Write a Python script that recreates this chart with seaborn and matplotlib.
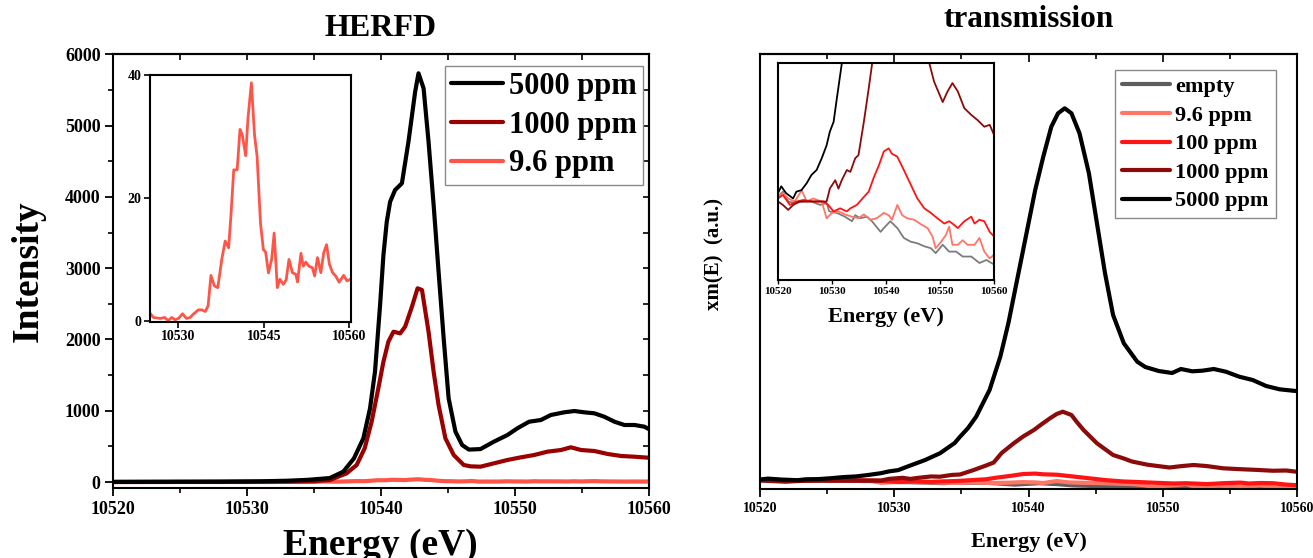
import numpy as np
import pandas as pd
import matplotlib
matplotlib.use("Agg")
import matplotlib.pyplot as plt
from matplotlib.ticker import MultipleLocator, FixedLocator, NullLocator
import seaborn as sns

# ---------------- HERFD data ----------------
herfd_5000_E = [10520, 10524, 10528, 10531, 10533, 10534.5, 10535.5, 10536.2, 10537.2, 10538.0,
                10538.7, 10539.2, 10539.57, 10539.95, 10540.2, 10540.45, 10540.7, 10541.07, 10541.58, 10542.07,
                10542.57, 10542.82, 10543.2, 10543.57, 10543.95, 10544.32, 10544.7, 10545.07, 10545.58, 10546.08,
                10546.58, 10547.45, 10548.45, 10549.46, 10550.2, 10551.08, 10551.96, 10552.7, 10553.7, 10554.46,
                10555.2, 10555.96, 10556.7, 10557.46, 10558.2, 10558.96, 10559.7, 10560]
herfd_5000_I = [2, 4, 6, 10, 18, 30, 45, 56, 145, 332,
                613, 1034, 1548, 2483, 3185, 3652, 3933, 4097, 4191, 4775,
                5476, 5735, 5524, 4775, 3887, 2951, 2016, 1174, 706, 519,
                455, 462, 566, 659, 753, 846, 870, 940, 978, 996,
                978, 964, 916, 846, 800, 800, 776, 745]

herfd_1000_E = [10520, 10525, 10530, 10533, 10535, 10536.2, 10537.45, 10538.2, 10538.8, 10539.32,
                10539.82, 10540.2, 10540.57, 10540.95, 10541.45, 10541.82, 10542.33, 10542.75, 10543.08, 10543.57,
                10543.95, 10544.32, 10544.83, 10545.45, 10546.2, 10546.7, 10547.45, 10548.45, 10549.46, 10550.46,
                10551.46, 10552.46, 10553.46, 10554.2, 10554.96, 10555.96, 10556.96, 10557.96, 10558.96, 10560]
herfd_1000_I = [0, 1, 3, 6, 12, 28, 122, 239, 473, 846,
                1314, 1688, 1969, 2109, 2086, 2179, 2460, 2718, 2694, 2109,
                1548, 1080, 613, 379, 239, 220, 215, 262, 309, 346,
                379, 426, 449, 487, 449, 435, 393, 365, 355, 341]

herfd_96_E = [10520, 10522, 10524, 10525, 10525.6, 10526.8, 10527.6, 10528.2, 10528.8, 10529.4,
              10530, 10530.7, 10531.4, 10532.06, 10532.6, 10533.5, 10534.1, 10534.7, 10535.2, 10535.7,
              10536.3, 10536.9, 10537.6, 10538.2, 10538.8, 10539.2, 10539.7, 10540.3, 10540.8, 10541.2,
              10541.8, 10542.2, 10542.8, 10543.35, 10543.8, 10544.4, 10544.9, 10545.3, 10545.8, 10546.35,
              10546.8, 10547.35, 10547.8, 10548.4, 10548.9, 10549.4, 10550.0, 10550.6, 10550.9, 10551.5,
              10551.9, 10552.35, 10552.9, 10553.5, 10553.9, 10554.4, 10555.0, 10555.5, 10556.0, 10556.5,
              10557.06, 10557.6, 10558.2, 10559.0, 10559.6, 10560.2]
herfd_96_I = [0.5, 0.8, 0.4, 1.24, 0.54, 0.38, 0.54, 0, 0.54, 0.16,
              0.38, 1.14, 0.38, 0.54, 1.08, 1.78, 1.78, 1.51, 2.43, 7.4,
              5.68, 5.4, 10.0, 13.0, 11.9, 17.0, 24.6, 24.6, 31.2, 30.3,
              26.9, 33.0, 38.8, 30.3, 26.8, 15.9, 11.6, 11.2, 7.8, 10.0,
              14.3, 5.4, 6.76, 5.95, 6.65, 10.0, 7.84, 7.57, 6.32, 11.0,
              8.9, 9.57, 8.9, 8.65, 7.3, 10.3, 7.84, 11.1, 12.4, 9.2,
              7.84, 7.3, 6.3, 7.4, 6.5, 6.76]

# ---------------- transmission data (arb. units) ----------------
tr_empty_E = [10520, 10520.9, 10521.9, 10523.1, 10524.7, 10526.2, 10527.8, 10529, 10529.5, 10530.9,
              10532.4, 10533.7, 10534.3, 10535.2, 10536.5, 10537.4, 10539, 10539.6, 10540.8, 10542.1,
              10543.3, 10544.6, 10545.8, 10547.1, 10548.3, 10549.2, 10550.5, 10551.7, 10553, 10554.2,
              10555.8, 10557.3, 10558.6, 10560]
tr_empty_v = [0.04, 0.7, -0.6, -0.8, -0.6, -0.6, -1.05, -0.8, -1.9, -2.1,
              -2.6, -3.2, -2.4, -2.8, -2.6, -3.2, -4.6, -4.1, -3.2, -4.1,
              -5.4, -5.9, -6.1, -6.5, -6.75, -7.4, -6.3, -7.2, -7.2, -7.85,
              -7.85, -8.7, -8.3, -8.9]

tr_96_E = [10520, 10520.9, 10521.9, 10523.1, 10524.4, 10525.3, 10526.5, 10528.1, 10529, 10530,
           10531.2, 10532.4, 10533.7, 10534.9, 10535.9, 10537.1, 10538.3, 10539.6, 10540.5, 10541.1,
           10542.1, 10543, 10543.9, 10545.2, 10546.7, 10547.7, 10548.6, 10549.2, 10550.2, 10551.1,
           10551.7, 10552.3, 10553.3, 10554.2, 10555.1, 10556.4, 10557.3, 10558.2, 10559.2, 10560]
tr_96_v = [0, 0.5, -0.2, -0.6, 0.9, -0.6, -0.2, -0.6, -2.8, -2.1,
           -1.9, -2.3, -2.6, -2.8, -2.3, -3.0, -2.8, -2.1, -2.4, -3.0,
           -1.05, -2.4, -2.8, -3.0, -3.7, -4.1, -5.2, -6.75, -5.9, -5.0,
           -3.9, -6.3, -6.3, -5.7, -6.3, -6.3, -5.4, -7.2, -8.1, -7.6]

tr_100_E = [10520, 10520.9, 10522.2, 10523.4, 10524.7, 10526.5, 10528.4, 10529.3, 10530.3, 10531.5,
            10532.75, 10533.4, 10534.6, 10535.9, 10536.8, 10537.7, 10538.7, 10539.6, 10540.5, 10541.1,
            10542.1, 10543.3, 10544.6, 10545.8, 10547.1, 10548.3, 10549.5, 10550.8, 10551.7, 10552.3,
            10553.3, 10554.5, 10555.8, 10556.4, 10557.3, 10558.2, 10559.2, 10560]
tr_100_v = [-0.2, 0.26, -1.05, -0.6, -0.4, -0.6, -0.6, -1.05, -1.9, -1.5,
            -1.9, -1.5, -1.05, 0, 0.7, 2.5, 4.2, 6.0, 6.4, 5.7,
            5.3, 3.55, 1.6, -0.2, -1.5, -2.1, -2.8, -3.5, -3.2, -3.5,
            -4.1, -3.2, -2.6, -3.5, -3.0, -3.2, -4.6, -5.2]

tr_1000_E = [10520, 10520.9, 10521.9, 10522.8, 10524, 10525.9, 10527.8, 10529, 10529.6, 10530.6,
             10531.2, 10531.8, 10532.75, 10533.4, 10534.3, 10534.9, 10535.9, 10536.8, 10537.4, 10538.0,
             10538.9, 10539.6, 10540.4, 10541.0, 10541.6, 10542.1, 10542.55, 10543.2, 10543.6, 10544.1,
             10545.1, 10546.3, 10547.1, 10547.7, 10548.9, 10550.5, 10551.4, 10552.3, 10553.3, 10554.5,
             10555.8, 10557, 10558.2, 10559.2, 10560]
tr_1000_v = [-0.6, -1.05, -1.7, -1.05, -0.6, -0.6, -0.6, -0.6, 1.1, 2.2,
             1.1, 2.2, 3.55, 3.3, 5.1, 5.5, 9.9, 14.3, 17.4, 27,
             36.7, 43.5, 50, 56, 61.7, 66, 68.3, 65, 58, 50,
             36.7, 25, 21.5, 18.5, 15.2, 12.5, 13.9, 15.0, 13.9, 11.7,
             10.8, 10.1, 9.25, 9.5, 8.2]

tr_5000_E = [10520, 10520.6, 10521.5, 10522.8, 10523.4, 10524.35, 10525.3, 10526.2, 10527.15, 10528.1,
             10529, 10529.6, 10530.3, 10530.9, 10531.5, 10532.3, 10533.4, 10534.5, 10534.9, 10535.5,
             10536.1, 10537.1, 10537.9, 10538.5, 10539.0, 10539.5, 10540.0, 10540.5, 10541.1, 10541.7,
             10542.2, 10542.7, 10543.2, 10543.8, 10544.5, 10545.1, 10545.7, 10546.3, 10547.1, 10548.1,
             10548.7, 10549.7, 10550.7, 10551.35, 10552.2, 10552.95, 10553.8, 10554.7, 10555.7, 10556.7,
             10557.7, 10558.7, 10559.9, 10560]
tr_5000_v = [0.5, 1.4, 0.5, -0.2, 0.7, 0.9, 1.8, 2.9, 3.55, 5.1,
             6.8, 8.6, 9.9, 13.0, 16.0, 20, 26.7, 37, 43.3, 52,
             63.3, 90, 123.3, 156.7, 190, 223.3, 256.7, 290, 323.3, 353.3,
             366.7, 371.7, 366.7, 346.7, 306.7, 256.7, 206.7, 165, 136.7, 118.3,
             113, 109, 107, 111, 108.7, 109.3, 111, 108.3, 103.3, 100,
             94, 90.7, 89, 89]

herfd_labels = ["5000 ppm", "1000 ppm", "9.6 ppm"]
trans_labels = ["empty", "9.6 ppm", "100 ppm", "1000 ppm", "5000 ppm"]

# ---------------- style ----------------
sns.set_theme(style="ticks")
plt.rcParams['font.family'] = ['Liberation Serif', 'DejaVu Serif']
plt.rcParams['font.weight'] = 'bold'
plt.rcParams['axes.labelweight'] = 'bold'
plt.rcParams['axes.titleweight'] = 'bold'
plt.rcParams['axes.edgecolor'] = 'black'
plt.rcParams['axes.labelcolor'] = 'black'
plt.rcParams['text.color'] = 'black'
plt.rcParams['xtick.color'] = 'black'
plt.rcParams['ytick.color'] = 'black'

W, H = 1313, 558
fig = plt.figure(figsize=(W / 100, H / 100), dpi=100)


def box(l, t, r, b):
    return [l / W, 1 - b / H, (r - l) / W, (b - t) / H]


ax1 = fig.add_axes(box(113, 54.4, 648.5, 488))
ax1in = fig.add_axes(box(150, 75.4, 350.5, 322))
ax2 = fig.add_axes(box(760, 54.4, 1297, 488.6))
ax2in = fig.add_axes(box(778, 62.6, 994, 279.7))

for a in (ax1, ax1in, ax2, ax2in):
    for s in a.spines.values():
        s.set_linewidth(1.5)
        s.set_color('black')

c_h5000, c_h1000, c_h96 = 'black', '#9B0000', '#FF5548'
c_empty, c_t96, c_t100, c_t1000, c_t5000 = '#5E5E5E', '#FF7566', '#FF1414', '#8B0A0A', 'black'

# ---------------- HERFD main ----------------
sns.lineplot(x=herfd_96_E, y=herfd_96_I, ax=ax1, color=c_h96, lw=3, label=herfd_labels[2],
             estimator=None, sort=False)
sns.lineplot(x=herfd_1000_E, y=herfd_1000_I, ax=ax1, color=c_h1000, lw=3, label=herfd_labels[1],
             estimator=None, sort=False)
sns.lineplot(x=herfd_5000_E, y=herfd_5000_I, ax=ax1, color=c_h5000, lw=3, label=herfd_labels[0],
             estimator=None, sort=False)
ax1.set_xlim(10520, 10560)
ax1.set_ylim(-84, 6000)
ax1.xaxis.set_major_locator(MultipleLocator(10))
ax1.xaxis.set_minor_locator(MultipleLocator(5))
ax1.yaxis.set_major_locator(MultipleLocator(1000))
ax1.yaxis.set_minor_locator(MultipleLocator(500))
ax1.tick_params(which='major', direction='out', length=6, width=1.3, labelsize=13, pad=3)
ax1.tick_params(which='minor', direction='out', length=3.5, width=1.2)
sx = ax1.secondary_xaxis('top')
sx.xaxis.set_major_locator(MultipleLocator(5))
sx.tick_params(direction='in', length=4, width=1.2, labeltop=False)
sy = ax1.secondary_yaxis('right')
sy.yaxis.set_major_locator(MultipleLocator(500))
sy.tick_params(direction='in', length=4, width=1.2, labelright=False)
for s in list(sx.spines.values()) + list(sy.spines.values()):
    s.set_linewidth(1.5)
ax1.set_title("HERFD", fontsize=23, pad=13)
ax1.set_xlabel("Energy (eV)", fontsize=27)
ax1.set_ylabel("Intensity", fontsize=27)
ax1.xaxis.set_label_coords(0.5, -0.093)
ax1.yaxis.set_label_coords(-0.125, 0.5)
h, l = ax1.get_legend_handles_labels()
order = [l.index(x) for x in herfd_labels]
leg1 = ax1.legend([h[i] for i in order], [l[i] for i in order], loc='upper right',
                  bbox_to_anchor=(1 - 5.5 / 535.5, 1 - 11.4 / 433.6), borderaxespad=0,
                  fontsize=22, handlelength=1.7, handletextpad=0.2, labelspacing=0.32,
                  borderpad=0.2, fancybox=False, edgecolor='#8A8A8A', framealpha=1)
leg1.get_frame().set_linewidth(1.0)

# ---------------- HERFD inset ----------------
sns.lineplot(x=herfd_96_E, y=herfd_96_I, ax=ax1in, color=c_h96, lw=2, legend=False,
             estimator=None, sort=False)
ax1in.set_xlim(10525, 10560.2)
ax1in.set_ylim(-0.2, 40)
ax1in.xaxis.set_major_locator(FixedLocator([10530, 10545, 10560]))
ax1in.yaxis.set_major_locator(FixedLocator([0, 20, 40]))
ax1in.tick_params(which='major', direction='out', length=4, width=1.2, labelsize=10, pad=2)
ax1in.set_xlabel("")
ax1in.set_ylabel("")

# ---------------- transmission main ----------------
series = [(tr_empty_E, tr_empty_v, c_empty, '#7C7C7C', trans_labels[0]),
          (tr_96_E, tr_96_v, c_t96, c_t96, trans_labels[1]),
          (tr_100_E, tr_100_v, c_t100, c_t100, trans_labels[2]),
          (tr_1000_E, tr_1000_v, c_t1000, c_t1000, trans_labels[3]),
          (tr_5000_E, tr_5000_v, c_t5000, c_t5000, trans_labels[4])]
for E, v, c, cin, lab in series:
    sns.lineplot(x=E, y=v, ax=ax2, color=c, lw=3, label=lab, estimator=None, sort=False)
    sns.lineplot(x=E, y=v, ax=ax2in, color=cin, lw=1.3, legend=False, estimator=None, sort=False)

ax2.set_xlim(10520, 10560)
ax2.set_ylim(-8.6, 425.6)
ax2.xaxis.set_major_locator(MultipleLocator(10))
ax2.xaxis.set_minor_locator(MultipleLocator(5))
ax2.yaxis.set_major_locator(NullLocator())
ax2.tick_params(which='major', direction='out', length=6, width=1.3, labelsize=10, pad=4)
ax2.tick_params(which='minor', direction='out', length=3.5, width=1.2)
sx2 = ax2.secondary_xaxis('top')
sx2.xaxis.set_major_locator(MultipleLocator(10))
sx2.xaxis.set_minor_locator(MultipleLocator(5))
sx2.tick_params(which='major', direction='in', length=6, width=1.2, labeltop=False)
sx2.tick_params(which='minor', direction='in', length=3.5, width=1.2)
for s in sx2.spines.values():
    s.set_linewidth(1.5)
ax2.set_title("transmission", fontsize=22.5, pad=20)
ax2.set_xlabel("Energy (eV)", fontsize=16)
ax2.set_ylabel("xm(E)  (a.u.)", fontsize=15)
ax2.xaxis.set_label_coords(0.5, -0.1)
ax2.yaxis.set_label_coords(-0.066, 0.541)
leg2 = ax2.legend(loc='upper right', bbox_to_anchor=((1275.6 - 760) / 537, (488.6 - 70) / 434.2),
                  borderaxespad=0, fontsize=16, handlelength=2.15, handletextpad=0.25,
                  labelspacing=0.36, borderpad=0.3, fancybox=False, edgecolor='#8A8A8A',
                  framealpha=1)
leg2.get_frame().set_linewidth(1.0)

# ---------------- transmission inset ----------------
ax2in.set_xlim(10520, 10560)
ax2in.set_ylim(-10.9, 17.7)
ax2in.xaxis.set_major_locator(MultipleLocator(10))
ax2in.yaxis.set_major_locator(NullLocator())
ax2in.tick_params(which='major', direction='out', length=3, width=1.0, labelsize=8, pad=2)
ax2in.set_xlabel("Energy (eV)", fontsize=16)
ax2in.set_ylabel("")
ax2in.xaxis.set_label_coords(0.5, -0.125)

fig.savefig("out.png", dpi=100)
